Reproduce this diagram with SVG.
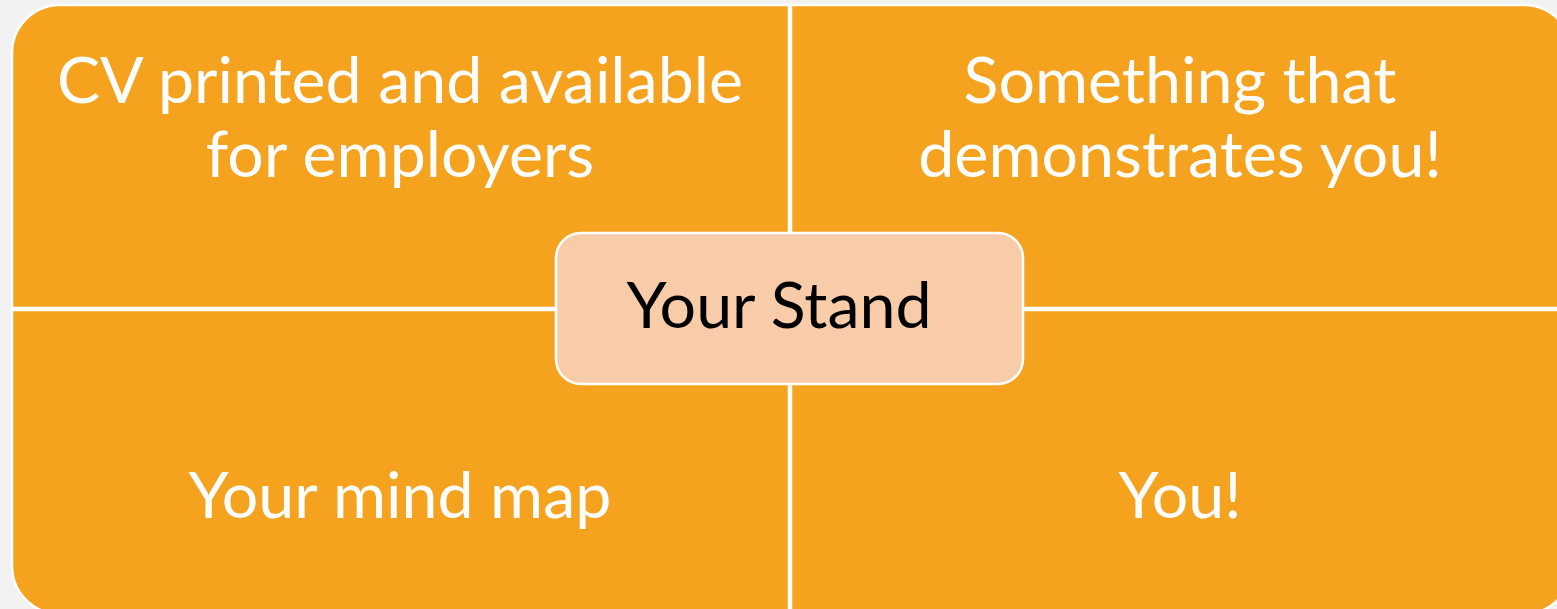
<svg xmlns="http://www.w3.org/2000/svg" width="1557" height="609" viewBox="0 0 1557 609">
<style>
.q{fill:#f5a31f;stroke:#ffffff;stroke-width:2.5}
.t{font-family:Lato,"Open Sans",sans-serif;font-size:64.5px;fill:#ffffff;text-anchor:middle}
.c{fill:#f8cca9;stroke:#ffffff;stroke-width:2.5}
.ct{font-family:Lato,"Open Sans",sans-serif;font-size:64.5px;fill:#000000;text-anchor:middle}
</style>
<rect width="1557" height="609" fill="#f2f2f2"/>
<g id="q-top-left">
<path class="q" d="M12,53 A48,48 0 0 1 60,5 L789,5 L789,308 L12,308 Z"/>
<text class="t" x="400" y="103">CV printed and available</text>
<text class="t" x="400" y="177">for employers</text>
</g>
<g id="q-top-right">
<path class="q" d="M791,5 L1524,5 A48,48 0 0 1 1572,53 L1572,308 L791,308 Z"/>
<text class="t" x="1180" y="103">Something that</text>
<text class="t" x="1180" y="177">demonstrates you!</text>
</g>
<g id="q-bottom-left">
<path class="q" d="M12,310 L789,310 L789,614 L60,614 A48,48 0 0 1 12,566 Z"/>
<text class="t" x="400" y="518">Your mind map</text>
</g>
<g id="q-bottom-right">
<path class="q" d="M791,310 L1572,310 L1572,566 A48,48 0 0 1 1524,614 L791,614 Z"/>
<text class="t" x="1180" y="518">You!</text>
</g>
<g id="connectors"></g>
<g id="center">
<rect class="c" x="556" y="233" width="467" height="151" rx="25" ry="25"/>
<text class="ct" x="779" y="328">Your Stand</text>
</g>
</svg>
